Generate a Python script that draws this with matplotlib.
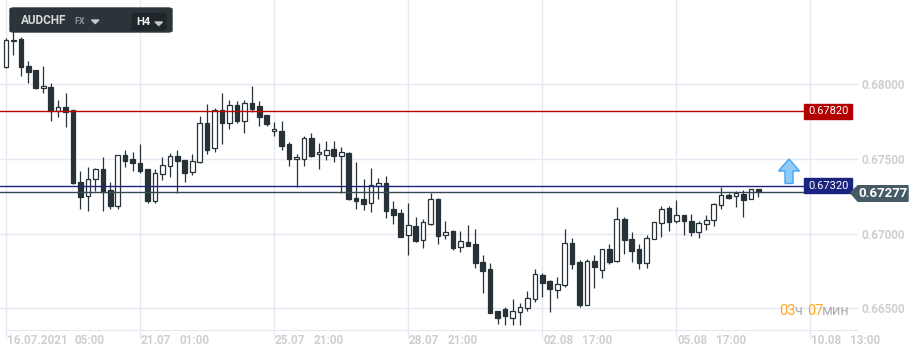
import matplotlib.pyplot as plt
import matplotlib.transforms as mtransforms
from matplotlib.patches import Rectangle, Polygon, FancyBboxPatch

symbol = "AUDCHF"
market = "FX"
timeframe = "H4"

opens = [0.68114, 0.68288, 0.68303, 0.68123, 0.68096, 0.67973, 0.67980, 0.67823, 0.67846, 0.67828,
         0.67344, 0.67250, 0.67364, 0.67431, 0.67290, 0.67187, 0.67525, 0.67498, 0.67471, 0.67433,
         0.67221, 0.67397, 0.67451, 0.67519, 0.67493, 0.67411, 0.67478, 0.67739, 0.67572, 0.67828,
         0.67743, 0.67860, 0.67756, 0.67873, 0.67855, 0.67794, 0.67685, 0.67687, 0.67600, 0.67498,
         0.67502, 0.67638, 0.67531, 0.67525, 0.67565, 0.67523, 0.67540, 0.67239, 0.67232, 0.67203,
         0.67317, 0.67339, 0.67165, 0.67138, 0.66993, 0.67051, 0.66956, 0.67065, 0.67232, 0.66989,
         0.67018, 0.66909, 0.66944, 0.66931, 0.66810, 0.66763, 0.66482, 0.66495, 0.66433, 0.66473,
         0.66500, 0.66560, 0.66723, 0.66683, 0.66623, 0.66654, 0.66935, 0.66810, 0.66520, 0.66817,
         0.66755, 0.66895, 0.66817, 0.67098, 0.66962, 0.66895, 0.66803, 0.66962, 0.67069, 0.67172,
         0.67083, 0.67123, 0.67085, 0.67013, 0.67063, 0.67089, 0.67190, 0.67261, 0.67250, 0.67268,
         0.67230, 0.67297]
highs = [0.68308, 0.68404, 0.68319, 0.68156, 0.68098, 0.68123, 0.68009, 0.67895, 0.67940, 0.67830,
         0.67420, 0.67446, 0.67442, 0.67513, 0.67344, 0.67527, 0.67560, 0.67547, 0.67600, 0.67435,
         0.67433, 0.67511, 0.67540, 0.67560, 0.67495, 0.67533, 0.67788, 0.67868, 0.67841, 0.67942,
         0.67892, 0.67890, 0.67898, 0.67989, 0.67890, 0.67796, 0.67748, 0.67754, 0.67615, 0.67533,
         0.67654, 0.67676, 0.67610, 0.67620, 0.67620, 0.67582, 0.67547, 0.67480, 0.67366, 0.67440,
         0.67373, 0.67386, 0.67219, 0.67163, 0.67205, 0.67112, 0.67096, 0.67269, 0.67239, 0.67085,
         0.67024, 0.67018, 0.67058, 0.67031, 0.66857, 0.66801, 0.66485, 0.66509, 0.66562, 0.66536,
         0.66616, 0.66763, 0.66735, 0.66690, 0.66712, 0.67031, 0.66969, 0.66822, 0.66828, 0.66855,
         0.66897, 0.66931, 0.67176, 0.67110, 0.67013, 0.66929, 0.66989, 0.67076, 0.67182, 0.67185,
         0.67225, 0.67125, 0.67134, 0.67083, 0.67125, 0.67205, 0.67310, 0.67270, 0.67288, 0.67292,
         0.67301, 0.67301]
lows = [0.68109, 0.68196, 0.68056, 0.68007, 0.67967, 0.67940, 0.67756, 0.67783, 0.67711, 0.67335,
        0.67167, 0.67154, 0.67288, 0.67154, 0.67162, 0.67168, 0.67443, 0.67422, 0.67404, 0.67207,
        0.67207, 0.67359, 0.67381, 0.67272, 0.67348, 0.67393, 0.67470, 0.67533, 0.67550, 0.67597,
        0.67703, 0.67739, 0.67676, 0.67817, 0.67723, 0.67723, 0.67656, 0.67563, 0.67455, 0.67314,
        0.67455, 0.67513, 0.67433, 0.67493, 0.67482, 0.67272, 0.67227, 0.67167, 0.67158, 0.67147,
        0.67235, 0.67108, 0.67066, 0.66980, 0.66859, 0.66944, 0.66906, 0.67058, 0.66933, 0.66966,
        0.66891, 0.66879, 0.66919, 0.66772, 0.66605, 0.66471, 0.66397, 0.66386, 0.66386, 0.66390,
        0.66480, 0.66544, 0.66578, 0.66477, 0.66567, 0.66641, 0.66761, 0.66509, 0.66520, 0.66634,
        0.66705, 0.66799, 0.66808, 0.66866, 0.66812, 0.66761, 0.66772, 0.66962, 0.66978, 0.67020,
        0.67069, 0.66989, 0.66986, 0.66973, 0.67022, 0.67053, 0.67163, 0.67230, 0.67176, 0.67114,
        0.67230, 0.67243]
closes = [0.68297, 0.68300, 0.68114, 0.68084, 0.67977, 0.67989, 0.67823, 0.67850, 0.67815, 0.67337,
          0.67247, 0.67364, 0.67431, 0.67281, 0.67187, 0.67525, 0.67488, 0.67476, 0.67422, 0.67221,
          0.67404, 0.67458, 0.67519, 0.67484, 0.67408, 0.67485, 0.67739, 0.67562, 0.67828, 0.67743,
          0.67860, 0.67756, 0.67873, 0.67837, 0.67783, 0.67732, 0.67699, 0.67589, 0.67500, 0.67511,
          0.67638, 0.67518, 0.67547, 0.67558, 0.67522, 0.67545, 0.67229, 0.67221, 0.67201, 0.67326,
          0.67337, 0.67154, 0.67127, 0.66980, 0.67056, 0.66953, 0.67078, 0.67230, 0.66986, 0.67009,
          0.66904, 0.66951, 0.66919, 0.66801, 0.66752, 0.66471, 0.66437, 0.66449, 0.66482, 0.66509,
          0.66569, 0.66728, 0.66668, 0.66627, 0.66661, 0.66935, 0.66795, 0.66522, 0.66817, 0.66779,
          0.66895, 0.66812, 0.67098, 0.66956, 0.66886, 0.66801, 0.66969, 0.67076, 0.67163, 0.67080,
          0.67123, 0.67085, 0.67013, 0.67071, 0.67089, 0.67199, 0.67257, 0.67241, 0.67270, 0.67227,
          0.67297, 0.67277]

date_labels = ["16.07.2021", "21.07", "25.07", "28.07", "02.08", "05.08", "10.08"]
time_labels = ["05:00", "01:00", "21:00", "21:00", "17:00", "17:00", "13:00"]
tick_candles = [0, 18, 36, 54, 72, 90, 108]
price_ticks = [0.665, 0.670, 0.675, 0.680]

resistance = 0.67820
support = 0.67320
last_price = 0.67277

W, H = 920, 356
DARK = "#263238"
GRID = "#e8e8f4"
LABEL = "#cfcfcf"

plt.rcParams["font.family"] = ["Roboto", "DejaVu Sans"]

fig = plt.figure(figsize=(W / 100, H / 100), dpi=100)
ax = fig.add_axes([0, 26 / H, 858 / W, 330 / H])

# candles
xs = list(range(len(opens)))
for i in xs:
    o, c = opens[i], closes[i]
    ax.vlines(i, lows[i], highs[i], color=DARK, lw=0.9, zorder=2)
    fill = "white" if c >= o else DARK
    ax.bar(i, max(abs(c - o), 0.00003), bottom=min(o, c), width=0.62,
           color=fill, edgecolor=DARK, linewidth=0.9, zorder=3)

ax.set_xlim(-0.8055, 114.38)
ax.set_ylim(0.663548, 0.685645)
ypx = (0.685645 - 0.663548) / 330  # price per pixel

ax.set_yticks(price_ticks)
ax.set_yticklabels([f"{p:.5f}" for p in price_ticks])
ax.yaxis.tick_right()
ax.tick_params(axis="y", length=0, pad=2.2, labelsize=8.5, labelcolor=LABEL)
for t in ax.get_yticklabels():
    t.set_fontweight("bold")
ax.set_xticks([])
for s in ["top", "left", "right"]:
    ax.spines[s].set_visible(False)
ax.spines["bottom"].set_color(GRID)
ax.spines["bottom"].set_bounds(0, 114.38)
ax.grid(axis="y", color=GRID, lw=1.0, zorder=0)
for i in tick_candles:
    ax.axvline(i, color=GRID, lw=1.0, zorder=0, ymin=-8 / 330, clip_on=False)

# x labels
tr = mtransforms.blended_transform_factory(ax.transData, ax.transAxes)
for i, d, t in zip(tick_candles, date_labels, time_labels):
    ax.text(i + 0.1, -11 / 330, d, transform=tr, fontsize=8.5, color=LABEL,
            fontweight="bold", va="center", ha="left")
    off = 5.9 * len(d) + 9
    ax.annotate(t, xy=(i + 0.1, -11 / 330), xycoords=tr, xytext=(off, 0),
                textcoords="offset pixels", fontsize=8.5, color=LABEL,
                fontweight="bold", va="center", ha="left")

# level lines
box_x0 = 804 / 858
ax.axhline(resistance, xmin=0, xmax=box_x0, color="#c00000", lw=1.0, zorder=4)
ax.axhline(support, xmin=0, xmax=box_x0, color="#1a237e", lw=1.0, zorder=4)
ax.axhline(last_price, xmin=0, xmax=853 / 858, color="#37474f", lw=1.0, zorder=4)

ta = mtransforms.blended_transform_factory(ax.transAxes, ax.transData)
for lvl, col in [(resistance, "#b30000"), (support, "#1a237e")]:
    ax.add_patch(Rectangle((box_x0, lvl - 7.5 * ypx), 48.5 / 858, 15 * ypx,
                           transform=ta, color=col, zorder=5, clip_on=False))
    ax.text(box_x0 + 24.5 / 858, lvl, f"{lvl:.5f}", transform=ta, color="white",
            fontsize=8, ha="center", va="center", zorder=6)

def fx(x):
    return x / W

def fy(y):
    return 1 - y / H

# last price tag
ly = 84.3 + (0.68 - last_price) / ypx
tag = Polygon([(fx(851), fy(ly)), (fx(858), fy(185.7)), (fx(908), fy(185.7)),
               (fx(908), fy(201.3)), (fx(858), fy(201.3)), (fx(851), fy(ly + 1))],
              closed=True, transform=fig.transFigure, color="#455a64", zorder=5)
fig.add_artist(tag)
fig.text(fx(883), fy(193.5), f"{last_price:.5f}", color="white", fontsize=9.5,
         fontweight="bold", ha="center", va="center", zorder=6)

# up arrow
arrow = Polygon([(fx(789), fy(159)), (fx(799.5), fy(171)), (fx(793), fy(171)),
                 (fx(793), fy(183.5)), (fx(785), fy(183.5)), (fx(785), fy(171)),
                 (fx(778.5), fy(171))],
                closed=True, transform=fig.transFigure, facecolor="#90caf9",
                edgecolor="#42a5f5", lw=1.0)
fig.add_artist(arrow)

# toolbar
bar = FancyBboxPatch((fx(10), fy(32)), fx(162), 24 / H,
                     boxstyle="round,pad=0,rounding_size=0.004",
                     transform=fig.transFigure, color="#2b3439", zorder=10)
fig.add_artist(bar)
inner = FancyBboxPatch((fx(132), fy(30)), fx(34), 16.5 / H,
                       boxstyle="round,pad=0,rounding_size=0.003",
                       transform=fig.transFigure, color="#1f272b", zorder=11)
fig.add_artist(inner)
fig.text(fx(20.5), fy(21), symbol, color="#d8d8d8", fontsize=8.5, fontweight="bold",
         ha="left", va="center", zorder=12)
fig.text(fx(74), fy(21), market, color="#8b969c", fontsize=6.5, fontweight="bold",
         ha="left", va="center", zorder=12)
fig.text(fx(136), fy(22), timeframe, color="#f0f0f0", fontsize=8, fontweight="bold",
         ha="left", va="center", zorder=12)
for x0, y0 in [(91.5, 20), (155, 22)]:
    fig.add_artist(Polygon([(fx(x0), fy(y0)), (fx(x0 + 7.5), fy(y0)), (fx(x0 + 3.75), fy(y0 + 3.5))],
                           closed=True, transform=fig.transFigure, color="#c8c8c8", zorder=12))

# countdown
orange = "#ffa726"
grey = "#b0b0b0"
for x0, s, col in [(779, "03", orange), (794, "ч", grey), (807, "07", orange), (822, "мин", grey)]:
    fig.text(fx(x0), fy(311), s, color=col, fontsize=10.5, ha="left", va="center")

fig.savefig("out.png", dpi=100)
